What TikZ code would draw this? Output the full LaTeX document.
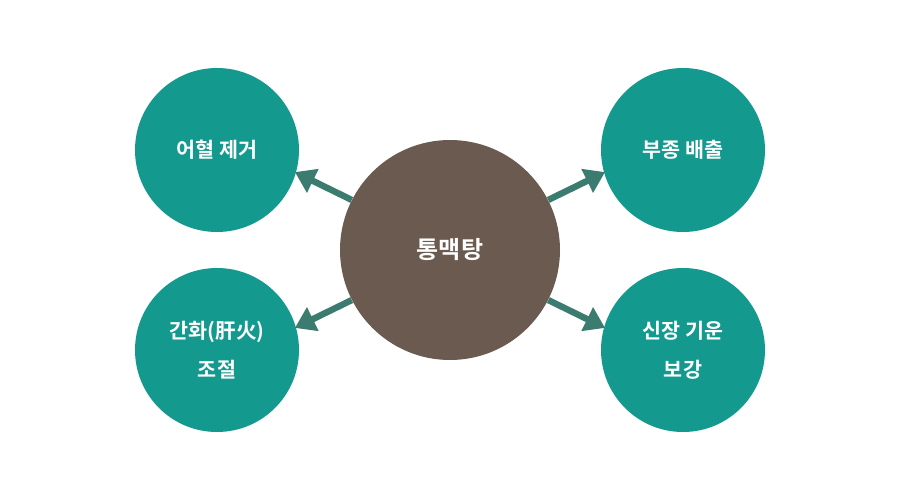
\documentclass[tikz,border=0pt]{standalone}
\usepackage{fontspec}
\newfontfamily\krfont{Noto Sans CJK KR}[BoldFont={Noto Sans CJK KR Bold}]
\usepackage{tikz}
\usetikzlibrary{arrows.meta}

\definecolor{tealc}{RGB}{20,153,143}
\definecolor{brownc}{RGB}{106,90,79}
\definecolor{arrowc}{RGB}{60,124,112}

\tikzset{
  mainball/.style={circle,fill=brownc,minimum size=165pt,inner sep=0pt,
    text=white,font=\krfont\bfseries\fontsize{18pt}{22pt}\selectfont},
  sideball/.style={circle,fill=tealc,minimum size=123pt,inner sep=0pt,
    text=white,align=center,font=\krfont\bfseries\fontsize{15.5pt}{29pt}\selectfont},
  arr/.style={draw=arrowc,line width=4.8pt,-{Triangle[length=15pt,width=19pt]},shorten >=-1pt}
}

\begin{document}
\begin{tikzpicture}[x=0.75pt,y=0.75pt,yscale=-1,xscale=1]
      \useasboundingbox (0,0) rectangle (900,500);
      % circles
      \node[mainball] (tongmaek) at (450,250) {통맥탕};
      \node[sideball] (eohyeol) at (217,150) {어혈 제거};
      \node[sideball] (ganhwa)  at (217,350) {간화(肝火)\\조절};
      \node[sideball] (bujong)  at (683,150) {부종 배출};
      \node[sideball] (sinjang) at (683,350) {신장 기운\\보강};
      % arrows
      \draw[arr] (tongmaek.153) -- (eohyeol.-16);
      \draw[arr] (tongmaek.207) -- (ganhwa.16);
      \draw[arr] (tongmaek.27)  -- (bujong.196);
      \draw[arr] (tongmaek.-27) -- (sinjang.164);
\end{tikzpicture}
\end{document}
